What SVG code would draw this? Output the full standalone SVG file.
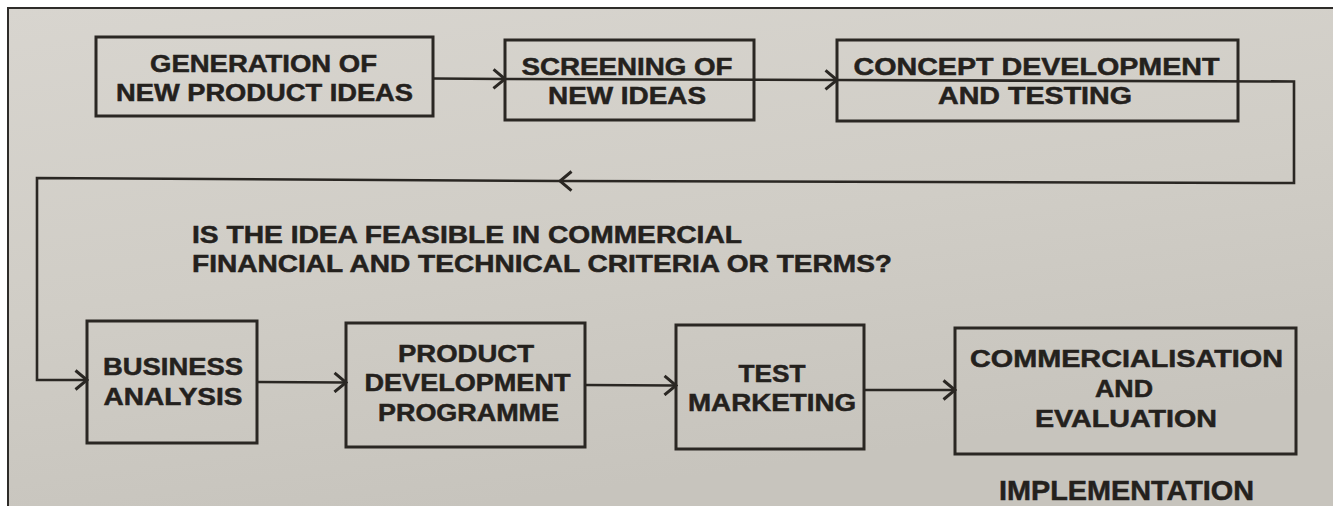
<svg xmlns="http://www.w3.org/2000/svg" width="1333" height="506" viewBox="0 0 1333 506">
  <defs>
    <linearGradient id="paper" x1="0" y1="0" x2="0.35" y2="1">
      <stop offset="0" stop-color="#d8d5cf"/>
      <stop offset="0.55" stop-color="#d0cdc6"/>
      <stop offset="1" stop-color="#c7c4bd"/>
    </linearGradient>
    <marker id="chev" viewBox="0 0 15 22" refX="13" refY="11" markerWidth="15" markerHeight="22" markerUnits="userSpaceOnUse" orient="auto">
      <path d="M1.5,1.5 L13,11 L1.5,20.5" fill="none" stroke="#2a2723" stroke-width="3" stroke-linejoin="miter"/>
    </marker>
    <style>
      .box { fill: none; stroke: #2a2723; stroke-width: 3; }
      .link { fill: none; stroke: #2a2723; stroke-width: 2.6; }
      .lbl { font-family: "Liberation Sans", Arial, Helvetica, sans-serif; font-weight: bold; font-size: 24px; fill: #24211d; stroke: #24211d; stroke-width: 0.5; text-anchor: middle; }
      .q { text-anchor: start; }
      .impl { font-size: 28px; }
    </style>
  </defs>

  <!-- page: white margin, printed paper, frame edge -->
  <rect x="0" y="0" width="1333" height="506" fill="#ffffff"/>
  <rect x="8" y="8" width="1325" height="498" fill="url(#paper)"/>
  <path d="M8,506 L8,8 L1333,8" fill="none" stroke="#2e2c29" stroke-width="2"/>

  <!-- connectors -->
  <g id="connectors">
    <path class="link" d="M433,78.5 L505,79" marker-end="url(#chev)"/>
    <path class="link" d="M505,79 L837,80" marker-end="url(#chev)"/>
    <path class="link" d="M837,80 L1294,81.5 L1294,183 L560,181" marker-end="url(#chev)"/>
    <path class="link" d="M560,181 L37,178 L37,380 L87,380" marker-end="url(#chev)"/>
    <path class="link" d="M257,382 L346,382.5" marker-end="url(#chev)"/>
    <path class="link" d="M585,385 L676,385.5" marker-end="url(#chev)"/>
    <path class="link" d="M864,390 L955,390" marker-end="url(#chev)"/>
  </g>

  <g id="generation">
    <rect class="box" x="96" y="37" width="337" height="79"/>
    <text class="lbl" x="263.5" y="72" textLength="227" lengthAdjust="spacingAndGlyphs">GENERATION OF</text>
    <text class="lbl" x="264.5" y="101" textLength="297" lengthAdjust="spacingAndGlyphs">NEW PRODUCT IDEAS</text>
  </g>

  <g id="screening">
    <rect class="box" x="505" y="40" width="249" height="80"/>
    <text class="lbl" x="627" y="75" textLength="211" lengthAdjust="spacingAndGlyphs">SCREENING OF</text>
    <text class="lbl" x="627" y="104" textLength="158" lengthAdjust="spacingAndGlyphs">NEW IDEAS</text>
  </g>

  <g id="concept">
    <rect class="box" x="837" y="40" width="401" height="81"/>
    <text class="lbl" x="1036.5" y="75" textLength="366" lengthAdjust="spacingAndGlyphs">CONCEPT DEVELOPMENT</text>
    <text class="lbl" x="1035" y="104" textLength="194" lengthAdjust="spacingAndGlyphs">AND TESTING</text>
  </g>

  <g id="question">
    <text class="lbl q" x="192" y="243" textLength="550" lengthAdjust="spacingAndGlyphs">IS THE IDEA FEASIBLE IN COMMERCIAL</text>
    <text class="lbl q" x="192" y="272" textLength="700" lengthAdjust="spacingAndGlyphs">FINANCIAL AND TECHNICAL CRITERIA OR TERMS?</text>
  </g>

  <g id="business">
    <rect class="box" x="87" y="321" width="170" height="122"/>
    <text class="lbl" x="173" y="375" textLength="140" lengthAdjust="spacingAndGlyphs">BUSINESS</text>
    <text class="lbl" x="173" y="405" textLength="139" lengthAdjust="spacingAndGlyphs">ANALYSIS</text>
  </g>

  <g id="product-development">
    <rect class="box" x="346" y="323" width="239" height="124"/>
    <text class="lbl" x="466" y="362" textLength="136" lengthAdjust="spacingAndGlyphs">PRODUCT</text>
    <text class="lbl" x="467.5" y="391" textLength="206" lengthAdjust="spacingAndGlyphs">DEVELOPMENT</text>
    <text class="lbl" x="468.5" y="421" textLength="181" lengthAdjust="spacingAndGlyphs">PROGRAMME</text>
  </g>

  <g id="test-marketing">
    <rect class="box" x="676" y="325" width="188" height="124"/>
    <text class="lbl" x="772" y="382" textLength="67" lengthAdjust="spacingAndGlyphs">TEST</text>
    <text class="lbl" x="772" y="411" textLength="168" lengthAdjust="spacingAndGlyphs">MARKETING</text>
  </g>

  <g id="commercialisation">
    <rect class="box" x="955" y="328" width="341" height="126"/>
    <text class="lbl" x="1126.5" y="367" textLength="313" lengthAdjust="spacingAndGlyphs">COMMERCIALISATION</text>
    <text class="lbl" x="1124" y="397" textLength="58" lengthAdjust="spacingAndGlyphs">AND</text>
    <text class="lbl" x="1126" y="427" textLength="182" lengthAdjust="spacingAndGlyphs">EVALUATION</text>
  </g>

  <g id="implementation">
    <text class="lbl impl" x="1126.5" y="500" textLength="255" lengthAdjust="spacingAndGlyphs">IMPLEMENTATION</text>
  </g>
</svg>
